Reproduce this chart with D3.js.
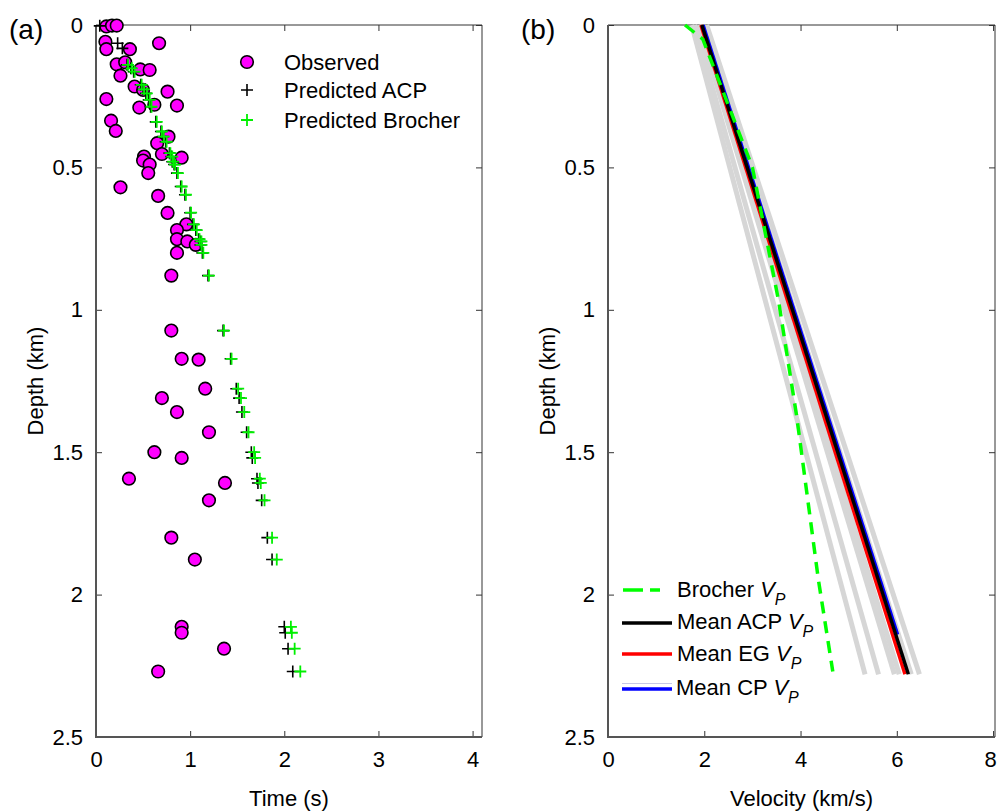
<!DOCTYPE html>
<html>
<head>
<meta charset="utf-8">
<script src="https://cdn.jsdelivr.net/npm/d3@7/dist/d3.min.js"></script>
<style>
  body { margin: 0; background: #fff; }
  svg { font-family: "Liberation Sans", Arial, sans-serif; }
</style>
</head>
<body>
<div id="chart"></div>
<script>
// ---- panel (a): travel times ----
// observed first-arrival times (s) and their depths (km)
const obsTime  = [0.11, 0.17, 0.22, 0.10, 0.11, 0.36, 0.67, 0.22, 0.31, 0.26, 0.47, 0.57, 0.41, 0.50, 0.76,
                  0.11, 0.46, 0.62, 0.86, 0.16, 0.21, 0.77, 0.65, 0.70, 0.51, 0.50, 0.91, 0.57, 0.555,
                  0.26, 0.66, 0.76, 0.96, 0.86, 0.86, 0.97, 1.06, 0.86, 0.80,
                  0.80, 0.91, 1.09, 1.16, 0.70, 0.86, 1.20, 0.62, 0.91, 0.35, 1.37, 1.20,
                  0.80, 1.05, 0.91, 0.91, 1.36, 0.66];
const obsDepth = [0.005, 0.002, 0.002, 0.059, 0.085, 0.085, 0.064, 0.138, 0.131, 0.178, 0.156, 0.158, 0.216, 0.228, 0.234,
                  0.26, 0.29, 0.28, 0.283, 0.336, 0.372, 0.392, 0.415, 0.453, 0.462, 0.476, 0.466, 0.49, 0.52,
                  0.57, 0.60, 0.66, 0.70, 0.72, 0.752, 0.76, 0.772, 0.80, 0.88,
                  1.073, 1.172, 1.175, 1.277, 1.31, 1.359, 1.43, 1.50, 1.52, 1.593, 1.608, 1.669,
                  1.80, 1.877, 2.113, 2.134, 2.19, 2.27];

// predicted times (s) at receiver depths (km)
const predDepth   = [0.003, 0.064, 0.082, 0.14, 0.152, 0.164, 0.21, 0.226, 0.24, 0.263, 0.287, 0.34, 0.374, 0.392,
                     0.41, 0.45, 0.462, 0.48, 0.49, 0.52, 0.567, 0.596, 0.659, 0.70, 0.72, 0.752, 0.76, 0.772,
                     0.80, 0.88, 1.073, 1.172, 1.277, 1.31, 1.359, 1.43, 1.50, 1.52, 1.593, 1.608, 1.669,
                     1.80, 1.877, 2.113, 2.134, 2.19, 2.27];
const acpTime     = [0.04, 0.23, 0.28, 0.33, 0.37, 0.40, 0.475, 0.50, 0.53, 0.56, 0.58, 0.635, 0.69, 0.71,
                     0.74, 0.78, 0.80, 0.81, 0.83, 0.86, 0.90, 0.945, 1.00, 1.03, 1.06, 1.09, 1.11, 1.11,
                     1.13, 1.19, 1.35, 1.43, 1.49, 1.52, 1.55, 1.60, 1.65, 1.66, 1.71, 1.72, 1.76,
                     1.82, 1.87, 2.00, 2.01, 2.04, 2.09];
const brocherTime = [null, null, null, 0.34, 0.38, 0.41, 0.485, 0.51, 0.54, 0.57, 0.59, 0.645, 0.70, 0.72,
                     0.75, 0.79, 0.81, 0.82, 0.84, 0.87, 0.91, 0.955, 1.01, 1.04, 1.07, 1.10, 1.12, 1.12,
                     1.14, 1.20, 1.36, 1.44, 1.51, 1.54, 1.575, 1.62, 1.68, 1.69, 1.74, 1.75, 1.79,
                     1.87, 1.92, 2.07, 2.08, 2.11, 2.17];

// ---- panel (b): velocity profiles ----
const profDepth  = [0, 2.28];
const acpVp      = [1.95, 6.24];
const egVp       = [1.93, 6.17];
const cpDepth    = [0, 2.14];
const cpVp       = [1.98, 6.02];
const brocherDepth = [0, 0.05, 0.5, 0.965, 1.374, 1.947, 2.27];
const brocherVp    = [1.6, 1.97, 3.0, 3.54, 3.92, 4.37, 4.67];
// individual model realisations (grey), top and bottom velocity
const realDepth = [0, 2.28];
const realVp = [
  [1.74, 5.34],
  [1.80, 5.62],
  [1.88, 5.95],
  [1.92, 6.05],
  [1.97, 6.30],
  [2.05, 6.47]
];

const W = 998, H = 812;
const svg = d3.select('#chart').append('svg').attr('width', W).attr('height', H);

const yA = d3.scaleLinear().domain([0, 2.5]).range([25, 737]);
const xA = d3.scaleLinear().domain([0, 4.1]).range([96, 482]);
const xB = d3.scaleLinear().domain([0, 8.04]).range([608, 995]);

const tickFont = 22;

function frame(x, xTicks, xTitle, label) {
  const g = svg.append('g');
  const [x0, x1] = x.range();
  const [y0, y1] = yA.range();
  // ticks, inside
  g.append('g').attr('transform', `translate(0,${y1})`)
    .call(d3.axisBottom(x).tickValues(xTicks).tickSize(-6).tickPadding(14).tickFormat(d3.format('d')))
    .call(a => a.select('.domain').remove())
    .call(a => a.selectAll('.tick text').filter(d => x(d) > 990).attr('dx', -3));
  g.append('g').attr('transform', `translate(0,${y0})`)
    .call(d3.axisTop(x).tickValues(xTicks).tickSize(-6).tickFormat(''))
    .call(a => a.select('.domain').remove());
  g.append('g').attr('transform', `translate(${x0},0)`)
    .call(d3.axisLeft(yA).tickValues([0, 0.5, 1, 1.5, 2, 2.5]).tickSize(-6).tickPadding(13).tickFormat(d => d))
    .call(a => a.select('.domain').remove());
  g.append('g').attr('transform', `translate(${x1},0)`)
    .call(d3.axisRight(yA).tickValues([0, 0.5, 1, 1.5, 2, 2.5]).tickSize(-6).tickFormat(''))
    .call(a => a.select('.domain').remove());
  g.selectAll('.tick line').attr('stroke', '#333');
  g.selectAll('.tick text').attr('font-size', tickFont).attr('fill', '#000')
    .attr('font-family', '"Liberation Sans", Arial, sans-serif');
  // box
  g.append('path').attr('d', `M${x0},${y0}H${x1}V${y1}`).attr('fill', 'none').attr('stroke', '#333').attr('stroke-width', 1);
  g.append('path').attr('d', `M${x0},${y0}V${y1}H${x1}`).attr('fill', 'none').attr('stroke', '#555').attr('stroke-width', 2);
  // titles
  svg.append('text').attr('x', (x0 + x1) / 2).attr('y', 806).attr('text-anchor', 'middle')
    .attr('font-size', 22).text(xTitle);
  svg.append('text').attr('transform', `translate(${x0 - 53},${(y0 + y1) / 2}) rotate(-90)`)
    .attr('text-anchor', 'middle').attr('font-size', 22).text('Depth (km)');
  svg.append('text').attr('x', x0 - 87).attr('y', 39).attr('font-size', 28).text(label);
}

frame(xA, [0, 1, 2, 3, 4], 'Time (s)', '(a)');
frame(xB, [0, 2, 4, 6, 8], 'Velocity (km/s)', '(b)');

// ---- panel (a) marks ----
const plusPath = s => `M${-s},0H${s}M0,${-s}V${s}`;
const obs = obsTime.map((t, i) => ({ t, d: obsDepth[i] }));
svg.append('g').selectAll('circle').data(obs).join('circle')
  .attr('cx', d => xA(d.t)).attr('cy', d => yA(d.d)).attr('r', 6.3)
  .attr('fill', '#ff00ff').attr('stroke', '#000').attr('stroke-width', 1.6);

const pred = predDepth.map((d, i) => ({ d, acp: acpTime[i], bro: brocherTime[i] }));
svg.append('g').selectAll('path').data(pred).join('path')
  .attr('transform', d => `translate(${xA(d.acp)},${yA(d.d)})`)
  .attr('d', plusPath(6)).attr('stroke', '#000').attr('stroke-width', 1.6);
svg.append('g').selectAll('path').data(pred.filter(d => d.bro != null)).join('path')
  .attr('transform', d => `translate(${xA(d.bro)},${yA(d.d)})`)
  .attr('d', plusPath(6)).attr('stroke', '#00f000').attr('stroke-width', 1.8);

// legend (a)
const legA = svg.append('g').attr('font-size', 22);
legA.append('circle').attr('cx', 247).attr('cy', 62).attr('r', 6.3)
  .attr('fill', '#ff00ff').attr('stroke', '#000').attr('stroke-width', 1.6);
legA.append('path').attr('transform', 'translate(247,90)').attr('d', plusPath(6)).attr('stroke', '#000').attr('stroke-width', 1.6);
legA.append('path').attr('transform', 'translate(247,120)').attr('d', plusPath(6)).attr('stroke', '#00f000').attr('stroke-width', 1.8);
[['Observed', 62], ['Predicted ACP', 90], ['Predicted Brocher', 120]].forEach(([s, y]) =>
  legA.append('text').attr('x', 284).attr('y', y + 8).text(s));

// ---- panel (b) marks ----
const vline = d3.line().x(d => xB(d[0])).y(d => yA(d[1]));
const gB = svg.append('g');
realVp.forEach(v => {
  gB.append('path').attr('d', vline(v.map((vv, i) => [vv, realDepth[i]])))
    .attr('fill', 'none').attr('stroke', '#d6d6d6').attr('stroke-width', 5);
});
gB.append('path').attr('d', vline(cpVp.map((v, i) => [v, cpDepth[i]])))
  .attr('fill', 'none').attr('stroke', '#0000ff').attr('stroke-width', 3);
gB.append('path').attr('d', vline(egVp.map((v, i) => [v, profDepth[i]])))
  .attr('fill', 'none').attr('stroke', '#ff0000').attr('stroke-width', 3.5);
gB.append('path').attr('d', vline(acpVp.map((v, i) => [v, profDepth[i]])))
  .attr('fill', 'none').attr('stroke', '#000').attr('stroke-width', 3.5);
gB.append('path').attr('d', vline(brocherVp.map((v, i) => [v, brocherDepth[i]])))
  .attr('fill', 'none').attr('stroke', '#00ff00').attr('stroke-width', 3.5).attr('stroke-dasharray', '12,8');

// legend (b)
const legB = svg.append('g').attr('font-size', 22);
function vpLabel(x, y, pre) {
  const t = legB.append('text').attr('x', x).attr('y', y);
  t.append('tspan').text(pre + ' ');
  t.append('tspan').attr('font-style', 'italic').text('V');
  t.append('tspan').attr('font-style', 'italic').attr('font-size', 16).attr('dy', 8).text('P');
}
legB.append('line').attr('x1', 623).attr('x2', 660).attr('y1', 590).attr('y2', 590)
  .attr('stroke', '#00ff00').attr('stroke-width', 3.5).attr('stroke-dasharray', '20,7');
vpLabel(677, 597, 'Brocher');
legB.append('line').attr('x1', 622).attr('x2', 672).attr('y1', 623).attr('y2', 623)
  .attr('stroke', '#000').attr('stroke-width', 3.5);
vpLabel(677, 629, 'Mean ACP');
legB.append('line').attr('x1', 622).attr('x2', 672).attr('y1', 654).attr('y2', 654)
  .attr('stroke', '#ff0000').attr('stroke-width', 3.5);
vpLabel(677, 661, 'Mean EG');
legB.append('line').attr('x1', 622).attr('x2', 672).attr('y1', 683.5).attr('y2', 683.5)
  .attr('stroke', '#c8c8e6').attr('stroke-width', 1);
legB.append('line').attr('x1', 622).attr('x2', 672).attr('y1', 689).attr('y2', 689)
  .attr('stroke', '#0000ff').attr('stroke-width', 3.5);
vpLabel(676, 695, 'Mean CP');
</script>
</body>
</html>
